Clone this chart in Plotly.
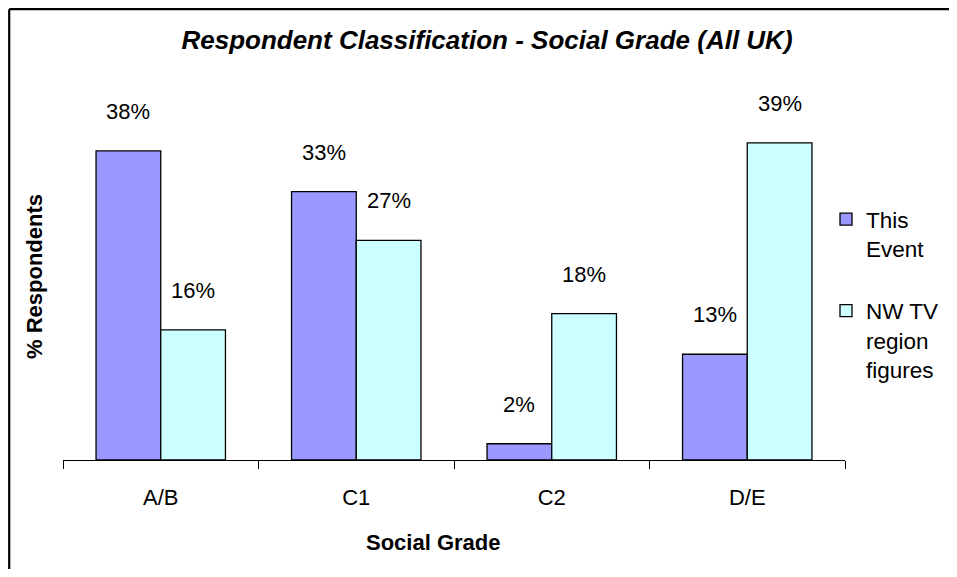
# -*- coding: utf-8 -*-
import plotly.graph_objs as go

# datos del grafico
grados = ['A/B', 'C1', 'C2', 'D/E']
este_evento = [38, 33, 2, 13]
region_nw = [16, 27, 18, 39]
nombres = ['This<br>Event', 'NW TV<br>region<br>figures']

fuente = 'Arial, Liberation Sans, sans-serif'
bargap = 0.338
ancho_cat = 782 / len(grados)
desplaz = (1 - bargap) / 4 * ancho_cat

# la pagina tiene 8px de margen, el area de trazado queda en x 63..845, y 94..460
def px(p):
    return (p - 63) / 782.0
def py(p):
    return (460 - p) / 366.0

trace0 = go.Bar(
    x = grados,
    y = este_evento,
    name = nombres[0],
    legendgroup = 'a',
    marker = dict(color = '#9999FF', line = dict(color = 'black', width = 1.3))
)
trace1 = go.Bar(
    x = grados,
    y = region_nw,
    name = nombres[1],
    legendgroup = 'b',
    marker = dict(color = '#CCFFFF', line = dict(color = 'black', width = 1.3))
)

# etiquetas de porcentaje encima de cada barra
etiquetas = []
for serie, dx in ((este_evento, -desplaz), (region_nw, desplaz)):
    for g, v in zip(grados, serie):
        etiquetas.append(dict(x = g, y = v, text = '%d%%' % v, showarrow = False,
                              xshift = dx, yshift = 25, yanchor = 'bottom',
                              font = dict(size = 22, color = 'black')))

# titulos de ejes
etiquetas.append(dict(xref = 'paper', yref = 'paper', x = px(433), y = py(542),
                      xanchor = 'center', yanchor = 'middle',
                      text = '<b>Social Grade</b>', showarrow = False,
                      font = dict(size = 22, color = 'black')))
etiquetas.append(dict(xref = 'paper', yref = 'paper', x = px(34), y = py(277),
                      xanchor = 'center', yanchor = 'middle',
                      text = '<b>% Respondents</b>', showarrow = False, textangle = -90,
                      font = dict(size = 22, color = 'black')))

layout = go.Layout(
    width = 941,
    height = 561,
    margin = dict(l = 55, r = 104, t = 86, b = 109, autoexpand = False),
    paper_bgcolor = 'white',
    plot_bgcolor = 'white',
    font = dict(family = fuente, size = 22, color = 'black'),
    title = dict(text = '<b><i>Respondent Classification - Social Grade (All UK)</i></b>',
                 x = px(487), xref = 'paper', xanchor = 'center',
                 y = 1 - 32 / 561.0, yref = 'container', yanchor = 'middle',
                 font = dict(size = 26, color = 'black')),
    barmode = 'group',
    bargap = bargap,
    bargroupgap = 0,
    showlegend = True,
    legend = dict(x = (826 - 8) / 941.0, xref = 'container', xanchor = 'left',
                  y = 1 - (198 - 8) / 561.0, yref = 'container', yanchor = 'top',
                  valign = 'top', tracegroupgap = 30, bgcolor = 'rgba(0,0,0,0)',
                  font = dict(size = 22.5, color = 'black')),
    xaxis = dict(type = 'category', range = [-0.5, 3.5], showline = True, linecolor = 'black',
                 linewidth = 1.3, ticks = 'outside', ticklen = 8, tickcolor = 'black',
                 tickwidth = 1.3, tickson = 'boundaries', showgrid = False,
                 ticklabelstandoff = 17, tickfont = dict(size = 22)),
    yaxis = dict(range = [0, 45], visible = False, showgrid = False, zeroline = False),
    annotations = etiquetas,
    # marco del grafico: solo se ven los bordes izquierdo y superior
    shapes = [dict(type = 'line', xref = 'paper', yref = 'paper',
                   x0 = px(9.2), x1 = px(9.2), y0 = py(580), y1 = py(9.2),
                   line = dict(color = 'black', width = 2.2)),
              dict(type = 'line', xref = 'paper', yref = 'paper',
                   x0 = px(9.2), x1 = px(960), y0 = py(9.2), y1 = py(9.2),
                   line = dict(color = 'black', width = 2.2))]
)
figure = go.Figure(data = [trace0, trace1], layout = layout)
figure.write_html('out.html')
